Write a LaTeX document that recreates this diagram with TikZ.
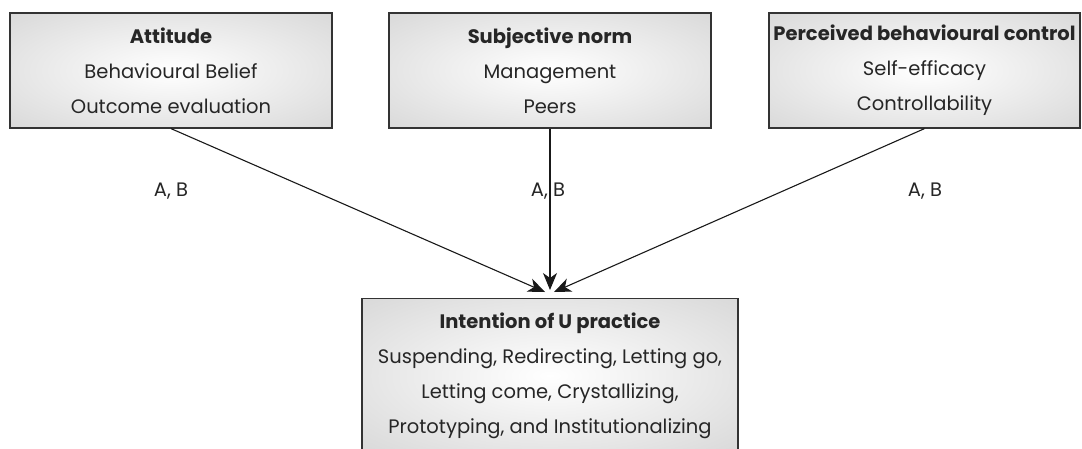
\documentclass[tikz,border=0pt]{standalone}
\usepackage{fontspec}
\setmainfont{Poppins}
\usepackage{tikz}
\usetikzlibrary{arrows.meta}
\pgfdeclareradialshading{glow}{\pgfpoint{0bp}{0bp}}{color(0bp)=(white); color(50bp)=(black!21); color(72bp)=(black!28)}

\begin{document}
\begin{tikzpicture}[x=1pt, y=-1pt,
    factor/.style={draw=black!80, line width=1.2pt, shading=glow, align=center, text=black!85,
      font=\fontsize{19.5}{35}\selectfont},
    link/.style={-{Stealth[length=17pt, width=14pt, inset=5pt]}, line width=1.1pt, black!90},
    weight/.style={text=black!85, font=\fontsize{19.5}{22}\selectfont}]
    \useasboundingbox (0, 0) rectangle (1082, 448);
    \clip (0, 0) rectangle (1082, 448);
    % Attitude
    \node [factor, minimum width=322pt, minimum height=115pt] (att) at (171, 70.5)
      {\textbf{Attitude}\\ Behavioural Belief\\ Outcome evaluation};
    % Subjective norm
    \node [factor, minimum width=322pt, minimum height=115pt] (norm) at (550, 70.5)
      {\textbf{Subjective norm}\\ Management\\ Peers};
    % Perceived behavioural control
    \node [factor, minimum width=311pt, minimum height=115pt] (pbc) at (924.5, 70.5)
      {\textbf{Perceived behavioural control}\\ Self-efficacy\\ Controllability};
    % Intention
    \node [factor, anchor=north, minimum width=376pt, minimum height=154pt] (intent) at (550, 298)
      {\textbf{Intention of U practice}\\ Suspending, Redirecting, Letting go,\\
       Letting come, Crystallizing,\\ Prototyping, and Institutionalizing};
    % tips
    \coordinate (tipA) at (545, 292);
    \coordinate (tipN) at (550, 290);
    \coordinate (tipP) at (554, 292);
    \draw [link]     (att.south) -- (tipA);
    \draw [link]     (norm.south) -- (tipN);
    \draw [link]     (pbc.south) -- (tipP);
    \node [weight] (wA) at (171, 191) {A, B};
    \node [weight] (wN) at (548, 191) {A, B};
    \node [weight] (wP) at (925, 191) {A, B};
\end{tikzpicture}
\end{document}
